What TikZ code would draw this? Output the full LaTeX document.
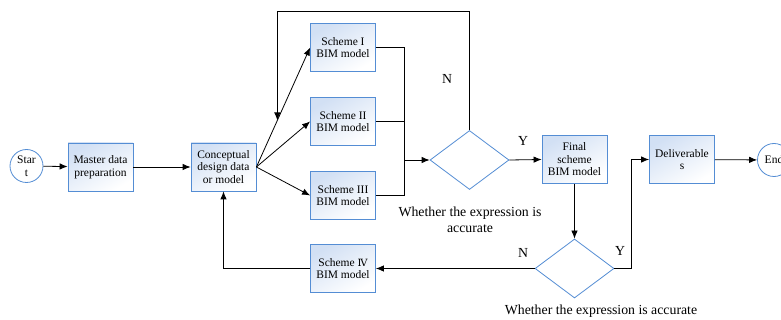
\documentclass[tikz,border=0pt]{standalone}
\usepackage{fontspec}
\setmainfont{LiberationSerif}[Extension=.ttf, UprightFont=*-Regular, BoldFont=*-Bold]
\newfontfamily\numfont{DejaVu Serif}
\usetikzlibrary{shapes.geometric,calc,arrows.meta}
\definecolor{boxline}{RGB}{84,141,212}
\definecolor{boxfill}{RGB}{210,224,244}
\tikzset{
  stepbox/.style={draw=boxline, line width=0.8pt, top color=boxfill, bottom color=white,
    shading angle=30, minimum width=65pt, minimum height=48pt, align=center,
    inner sep=1pt, font=\fontsize{11.5}{12.5}\selectfont},
  termnode/.style={circle, draw=boxline, line width=0.8pt, fill=white, minimum size=33pt,
    inner sep=0pt, align=center, font=\fontsize{11.5}{12.5}\selectfont},
  decide/.style={diamond, draw=boxline, line width=0.8pt, fill=white, minimum width=79pt,
    minimum height=59pt, inner sep=0pt},
  lbl/.style={font=\fontsize{13.8}{16}\selectfont, align=center}
}
\begin{document}
\begin{tikzpicture}[x=1pt, y=-1pt, line width=0.8pt, >={Latex[length=8pt,width=6.5pt]}]
  \useasboundingbox (0,0) rectangle (781,320);
  % nodes
  \node[termnode] (start) at (26.5,166) {Star\\t};
  \node[stepbox] (master) at (100.5,167) {Master data\\preparation};
  \node[stepbox] (concept) at (223.5,167) {Conceptual\\design data\\or model};
  \node[stepbox] (s1) at (343,47.5) {Scheme I\\BIM model};
  \node[stepbox] (s2) at (343,121.5) {Scheme II\\BIM model};
  \node[stepbox] (s3) at (343,195.5) {Scheme III\\BIM model};
  \node[stepbox] (s4) at (343,268.5) {Scheme {\numfont\fontsize{10}{12}\selectfont Ⅳ}\\BIM model};
  \node[decide] (check1) at (469.5,160) {};
  \node[stepbox] (final) at (574.5,159.5) {Final\\scheme\\BIM model};
  \node[decide] (check2) at (574.5,268.5) {};
  \node[stepbox] (deliv) at (682,159.5) {Deliverable\\s};
  \node[termnode] (end) at (774,160) {End};
  % labels
  \node[lbl] (n1) at (447,79) {N};
  \node[lbl] (y1) at (523,141) {Y};
  \node[lbl] (q1) at (470,220) {Whether the expression is\\accurate};
  \node[lbl] (y2) at (620,251) {Y};
  \node[lbl] (n2) at (523,253) {N};
  \node[lbl] (q2) at (601,311) {Whether the expression is accurate};
  % connectors
  \draw[->] (start) -- (master);
  \draw[->] (master) -- (concept);
  \draw[->] (concept.east) -- (s1.west);
  \draw[->] (concept.east) -- (s2.west);
  \draw[->] (concept.east) -- (s3.west);
  \coordinate (bus) at (404,160);
  \draw (s1.east) -| (bus);
  \draw (s2.east) -- (s2.east -| bus);
  \draw (s3.east) -| (bus);
  \draw[->] (bus) -- (check1.west);
  \path (concept.east) -- (s1.west) coordinate[pos=0.39] (hit);
  \draw[->] (check1.north) -- (check1.north |- 0,11) -| (hit);
  \draw[->] (check1.east) -- (final.west);
  \draw[->] (final.south) -- (check2.north);
  \draw[->] (check2.east) -- (631,268.5) |- (deliv.west);
  \draw[->] (deliv) -- (end);
  \draw[->] (check2.west) -- (s4.east);
  \draw[->] (s4.west) -| (concept.south);
\end{tikzpicture}
\end{document}
